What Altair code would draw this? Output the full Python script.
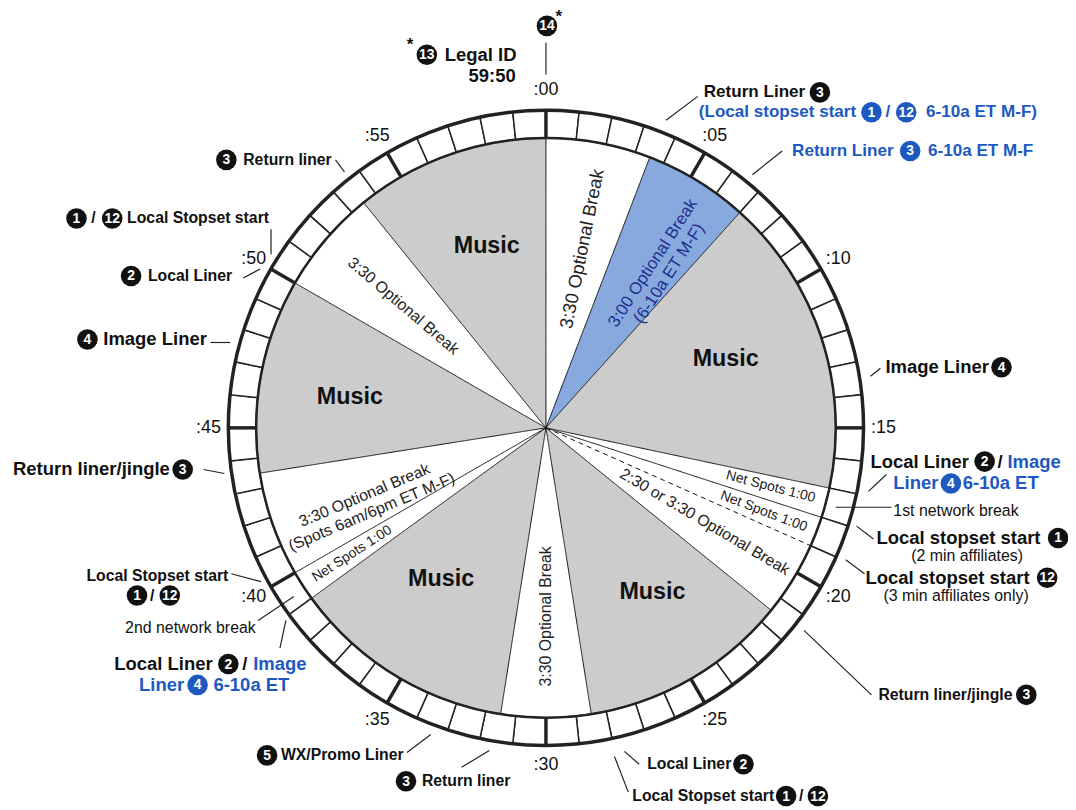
import math
import altair as alt
import pandas as pd

# ---------------- geometry / styling constants ----------------
CX, CY = 550, 428          # clock centre (page units)
R_OUT, R_IN = 320, 292     # minute ring
R_TICK = 340               # ":00" labels
W, H = 1068, 800
FONT = "Liberation Sans"
INK = "#111111"
BLUE = "#1d59c0"
BLUE_FILL = "#87a9de"
NAVY = "#1e2f8c"
GRAY = "#cccccc"

XS = alt.Scale(domain=[8, 8 + W], range=[0, W], nice=False, zero=False)
YS = alt.Scale(domain=[8, 8 + H], range=[0, H], nice=False, zero=False)
TS = alt.Scale(domain=[0, 60], range=[0, 2 * math.pi], nice=False, zero=False)

# ---------------- data: hour segments (minutes) ----------------
SEG_START = [0, 3.5, 7, 17, 18, 19, 21.5, 28.5, 31.5, 39, 40, 43.5, 50, 53.5]
SEG_END = [3.5, 7, 17, 18, 19, 21.5, 28.5, 31.5, 39, 40, 43.5, 50, 53.5, 60]
SEG_KIND = ["break", "blue", "music", "spots", "spots", "break", "music",
            "break", "music", "spots", "break", "music", "break", "music"]
SEG_LABEL = ["3:30 Optional Break", "3:00 Optional Break\n(6-10a ET M-F)", "Music",
             "Net Spots 1:00", "Net Spots 1:00", "2:30 or 3:30 Optional Break", "Music",
             "3:30 Optional Break", "Music", "Net Spots 1:00",
             "3:30 Optional Break\n(Spots 6am/6pm ET M-F)", "Music",
             "3:30 Optional Break", "Music"]
LABEL_MIN = [1.9, 5.5, 11.5, 17.45, 18.5, 20.1, 24.5, 30.0, 35.8, 39.5, 41.6, 46.5, 51.75, 57.0]
LABEL_R = [184, 198, 194, 234, 235, 186, 197, 190, 185, 233, 195, 200, 189, 193]
LABEL_TILT_MIN = [1.9, 5.5, 11.5, 17.45, 18.5, 20.1, 24.5, 30.0, 35.8, 39.5, 41.2, 46.5, 51.75, 57.0]

BOUNDARY_MIN = [0, 3.5, 7, 17, 18, 19, 21.5, 28.5, 31.5, 39, 40, 43.5, 50, 53.5]
BOUNDARY_LINE = ["solid"] * 5 + ["dashed"] + ["solid"] * 8

TICK_MIN = list(range(0, 60, 5))
TICK_LABEL = [f":{m:02d}" for m in TICK_MIN]

# ---------------- annotations ----------------
BIGK_TEXT = ["Legal ID", "59:50", "Image Liner", "Local Liner", "/", "Local stopset start",
             "Local stopset start", "Local Liner", "/", "Return liner/jingle", "Image Liner"]
BIGK_X = [448, 472, 892, 877, 1005, 883, 872, 115, 244, 13, 104]
BIGK_Y = [52, 74, 367, 462, 462, 539, 579, 666, 666, 470, 339]

BIGB_TEXT = ["Image", "Liner", "6-10a ET", "Image", "Liner", "6-10a ET"]
BIGB_X = [1015, 900, 970, 255, 140, 215]
BIGB_Y = [462, 484, 484, 666, 687, 687]

MIDK_TEXT = ["Return Liner"]
MIDK_X = [709]
MIDK_Y = [90]

MIDB_TEXT = ["(Local stopset start", "/", "6-10a ET M-F)", "Return Liner", "6-10a ET M-F"]
MIDB_X = [704, 892, 933, 798, 935]
MIDB_Y = [110, 110, 110, 149, 149]

SMALL_TEXT = ["Return liner/jingle", "Local Liner", "Local Stopset start", "/", "Return liner",
              "WX/Promo Liner", "Local Stopset start", "/", "Local Liner", "/",
              "Local Stopset start", "Return liner"]
SMALL_X = [885, 652, 637, 805, 425, 283, 87, 151, 149, 92, 128, 245]
SMALL_Y = [697, 767, 799, 799, 784, 758, 577, 597, 275, 217, 217, 158]

NOTE_TEXT = ["1st network break", "(2 min affiliates)", "(3 min affiliates only)", "2nd network break"]
NOTE_X = [900, 918, 890, 126]
NOTE_Y = [512, 557, 597, 630]

STAR_X = [563, 413]
STAR_Y = [14, 42]

BADGE_NUM = ["14", "13", "3", "1", "12", "3", "4", "2", "4", "1", "12", "3", "2", "1",
             "12", "3", "5", "2", "4", "1", "12", "3", "4", "2", "1", "12", "3"]
BADGE_X = [551, 430, 826, 878, 913, 917, 1009, 992, 958, 1066, 1055, 1034, 749, 792,
           824, 409, 269, 230, 199, 138, 171, 184, 88, 132, 77, 113, 228]
BADGE_Y = [23, 52, 90, 110, 110, 149, 367, 462, 484, 539, 579, 697, 767, 799,
           799, 784, 758, 666, 687, 597, 597, 470, 339, 275, 217, 217, 158]
BADGE_TONE = ["black", "black", "black", "blue", "blue", "blue", "black", "black", "blue",
              "black", "black", "black", "black", "black", "black", "black", "black",
              "black", "blue", "black", "black", "black", "black", "black", "black",
              "black", "black"]

LEAD_X1 = [550, 671, 758, 877, 875, 842, 863, 852, 810, 629, 619, 493, 434, 288, 260, 233, 205, 212, 245, 273, 338]
LEAD_Y1 = [40, 118, 173, 376, 492, 508, 527, 561, 632, 754, 759, 753, 737, 622, 622, 575, 470, 342, 277, 228, 158]
LEAD_X2 = [550, 703, 788, 887, 893, 898, 880, 871, 878, 644, 633, 465, 410, 282, 296, 263, 226, 232, 262, 273, 347]
LEAD_Y2 = [72, 94, 149, 368, 475, 508, 540, 575, 697, 767, 795, 770, 755, 650, 598, 583, 474, 342, 268, 253, 170]


def X(f):
    return alt.X(f"{f}:Q", scale=XS, axis=None)


def Y(f):
    return alt.Y(f"{f}:Q", scale=YS, axis=None)


centre = dict(cx=f"{CX}", cy=f"{CY}")

seg_df = pd.DataFrame({"start": SEG_START, "end": SEG_END, "kind": SEG_KIND})
wedges = alt.Chart(seg_df).transform_calculate(**centre).mark_arc(
    radius=R_IN, strokeWidth=0).encode(
    x=X("cx"), y=Y("cy"),
    theta=alt.Theta("start:Q", scale=TS, stack=False), theta2="end:Q",
    color=alt.Color("kind:N", legend=None,
                    scale=alt.Scale(domain=["break", "spots", "blue", "music"],
                                    range=["#ffffff", "#ffffff", BLUE_FILL, GRAY])))

bnd_df = pd.DataFrame({"m": BOUNDARY_MIN, "line": BOUNDARY_LINE})
radial = alt.Chart(bnd_df).transform_calculate(
    **centre,
    ex=f"{CX} + {R_IN} * sin(datum.m * PI / 30)",
    ey=f"{CY} - {R_IN} * cos(datum.m * PI / 30)").mark_rule(
    color=INK, strokeWidth=1).encode(
    x=X("cx"), y=Y("cy"), x2="ex:Q", y2="ey:Q",
    strokeDash=alt.StrokeDash("line:N", legend=None,
                              scale=alt.Scale(domain=["solid", "dashed"], range=[[1, 0], [5, 4]])))

min_df = pd.DataFrame({"m": list(range(60))})
ring = alt.Chart(min_df).transform_calculate(**centre, m2="datum.m + 1").mark_arc(
    radius=R_OUT, radius2=R_IN, fill="white", stroke="#222222", strokeWidth=1.5).encode(
    x=X("cx"), y=Y("cy"),
    theta=alt.Theta("m:Q", scale=TS, stack=False), theta2="m2:Q")

five_df = pd.DataFrame({"m": TICK_MIN})
thick = alt.Chart(five_df).transform_calculate(
    ax=f"{CX} + {R_IN} * sin(datum.m * PI / 30)",
    ay=f"{CY} - {R_IN} * cos(datum.m * PI / 30)",
    bx=f"{CX} + {R_OUT} * sin(datum.m * PI / 30)",
    by=f"{CY} - {R_OUT} * cos(datum.m * PI / 30)").mark_rule(
    color="#222222", strokeWidth=3.5).encode(x=X("ax"), y=Y("ay"), x2="bx:Q", y2="by:Q")

full_df = pd.DataFrame({"a": [0], "b": [60]})


def circle(r, w):
    return alt.Chart(full_df).transform_calculate(**centre).mark_arc(
        radius=r, fill="white", fillOpacity=0, stroke="#222222", strokeWidth=w).encode(
        x=X("cx"), y=Y("cy"), theta=alt.Theta("a:Q", scale=TS, stack=False), theta2="b:Q")


inner_c = circle(R_IN, 2.5)
outer_c = circle(R_OUT, 3.5)

tick_df = pd.DataFrame({"m": TICK_MIN, "label": TICK_LABEL})
tick_text = alt.Chart(tick_df).transform_calculate(
    tx=f"{CX} + {R_TICK} * sin(datum.m * PI / 30)",
    ty=f"{CY} - {R_TICK} * cos(datum.m * PI / 30)").mark_text(
    font=FONT, fontSize=18, color=INK, align="center", baseline="middle").encode(
    x=X("tx"), y=Y("ty"), text="label:N")

lab_df = pd.DataFrame({"label": SEG_LABEL, "m": LABEL_MIN, "r": LABEL_R,
                       "tilt": LABEL_TILT_MIN, "kind": SEG_KIND})
lab_base = alt.Chart(lab_df).transform_calculate(
    tx=f"{CX} + datum.r * sin(datum.m * PI / 30)",
    ty=f"{CY} - datum.r * cos(datum.m * PI / 30)",
    rot="datum.kind == 'music' ? 0 : ((datum.tilt * 6 < 170 ? datum.tilt * 6 - 90 : datum.tilt * 6 - 270) + 360) % 360")


def seg_text(cond, size, weight, color):
    return lab_base.transform_filter(cond).mark_text(
        font=FONT, fontSize=size, fontWeight=weight, color=color, align="center",
        baseline="middle", lineBreak="\n", lineHeight=size * 1.15).encode(
        x=X("tx"), y=Y("ty"), text="label:N", angle=alt.Angle("rot:Q", scale=None))


music_t = seg_text("datum.kind == 'music'", 23.5, "bold", INK)
top_t = seg_text("datum.kind == 'break' && datum.m < 3", 18.5, "normal", "#222222")
break_t = seg_text("datum.kind == 'break' && datum.m >= 3", 16, "normal", "#222222")
spots_t = seg_text("datum.kind == 'spots'", 14, "normal", "#222222")
blue_t = seg_text("datum.kind == 'blue'", 17, "normal", NAVY)

lead_df = pd.DataFrame({"x1": LEAD_X1, "y1": LEAD_Y1, "x2": LEAD_X2, "y2": LEAD_Y2})
leaders = alt.Chart(lead_df).mark_rule(color="#222222", strokeWidth=1.2).encode(
    x=X("x1"), y=Y("y1"), x2="x2:Q", y2="y2:Q")


def text_layer(texts, xs, ys, size, weight, color, align="left"):
    df = pd.DataFrame({"t": texts, "x": xs, "y": ys})
    return alt.Chart(df).mark_text(font=FONT, fontSize=size, fontWeight=weight, color=color,
                                   align=align, baseline="middle").encode(
        x=X("x"), y=Y("y"), text="t:N")


big_k = text_layer(BIGK_TEXT, BIGK_X, BIGK_Y, 18.6, "bold", INK)
big_b = text_layer(BIGB_TEXT, BIGB_X, BIGB_Y, 18.6, "bold", BLUE)
mid_k = text_layer(MIDK_TEXT, MIDK_X, MIDK_Y, 17.2, "bold", INK)
mid_b = text_layer(MIDB_TEXT, MIDB_X, MIDB_Y, 17.2, "bold", BLUE)
small_k = text_layer(SMALL_TEXT, SMALL_X, SMALL_Y, 15.9, "bold", INK)
notes = text_layer(NOTE_TEXT, NOTE_X, NOTE_Y, 16, "normal", INK)
stars = text_layer(["*"] * len(STAR_X), STAR_X, STAR_Y, 17, "bold", INK, align="center")

badge_df = pd.DataFrame({"n": BADGE_NUM, "x": BADGE_X, "y": BADGE_Y, "tone": BADGE_TONE})
badges = alt.Chart(badge_df).mark_circle(size=430, opacity=1).encode(
    x=X("x"), y=Y("y"),
    color=alt.Color("tone:N", legend=None,
                    scale=alt.Scale(domain=["black", "blue"], range=[INK, BLUE])))
badge_n = alt.Chart(badge_df).mark_text(font=FONT, fontSize=14, fontWeight="bold", color="white",
                                        align="center", baseline="middle", dy=0.5).encode(
    x=X("x"), y=Y("y"), text="n:N")

chart = alt.layer(
    wedges, radial, ring, thick, inner_c, outer_c, tick_text,
    music_t, top_t, break_t, spots_t, blue_t, leaders,
    big_k, big_b, mid_k, mid_b, small_k, notes, stars, badges, badge_n
).resolve_scale(color="independent", strokeDash="independent").properties(
    width=W, height=H, autosize="none", padding=0, background="white"
).configure_view(stroke=None)

chart.save("out.html", embed_options={"renderer": "svg", "actions": False})
